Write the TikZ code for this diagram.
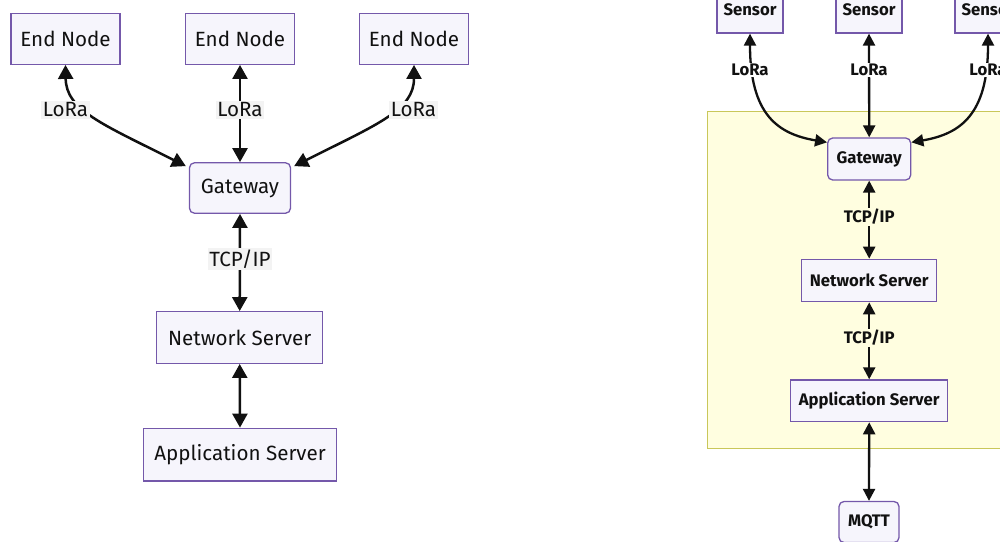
\documentclass[tikz,border=0pt]{standalone}
\usepackage{fontspec}
\setmainfont{Fira Sans}
\usetikzlibrary{arrows.meta}

\definecolor{nodefill}{HTML}{F6F5FC}
\definecolor{nodeline}{HTML}{7458AA}
\definecolor{clusterfill}{HTML}{FFFEE0}
\definecolor{clusterline}{HTML}{C9C75A}
\definecolor{labelbg}{HTML}{F3F3F3}
\definecolor{ink}{HTML}{111111}

\tikzset{
  box/.style={draw=nodeline, fill=nodefill, line width=1.3pt, inner sep=0pt, text=ink},
  roundbox/.style={box, rounded corners=5pt},
  bigtext/.style={font=\fontsize{20.6}{24}\selectfont},
  smalltext/.style={font=\fontsize{16.7}{19}\selectfont\bfseries},
  biglink/.style={line width=2.5pt, draw=ink,
    {Triangle[length=14pt,width=15pt]}-{Triangle[length=14pt,width=15pt]}},
  smalllink/.style={line width=2.3pt, draw=ink,
    {Triangle[length=12pt,width=12pt]}-{Triangle[length=12pt,width=12pt]}},
  lbl/.style={fill=labelbg, inner sep=1.5pt, text=ink},
}

\begin{document}
\begin{tikzpicture}[x=1pt, y=-1pt]
\useasboundingbox (0,0) rectangle (1000,541);
\clip (0,0) rectangle (1000,541);
\fill[white] (0,0) rectangle (1000,541);

% ---------- left: basic LoRaWAN chain ----------
\begin{scope}[bigtext]
  \node[box, minimum width=109pt, minimum height=51pt] (en1) at (65.5,38.8) {End Node};
  \node[box, minimum width=109pt, minimum height=51pt] (en2) at (240,38.8) {End Node};
  \node[box, minimum width=109pt, minimum height=51pt] (en3) at (414,38.8) {End Node};
  \node[roundbox, minimum width=101pt, minimum height=50.5pt] (gw) at (240,188) {Gateway};
  \node[box, minimum width=166pt, minimum height=51.6pt] (ns) at (239.7,337.5) {Network Server};
  \node[box, minimum width=193.4pt, minimum height=52.7pt] (as) at (240,454.6) {Application Server};

  \draw[biglink] (en1.south) .. controls (66,110) and (102,124) .. ([shift={(-3pt,-4pt)}]gw.north west);
  \draw[biglink] (en2.south) -- (gw.north);
  \draw[biglink] (en3.south) .. controls (414,110) and (378,124) .. ([shift={(3pt,-4pt)}]gw.north east);
  \draw[biglink] (gw.south) -- (ns.north);
  \draw[biglink] (ns.south) -- (as.north);

  \node[lbl] (l1) at (65.5,110) {LoRa};
  \node[lbl] (l2) at (240,110) {LoRa};
  \node[lbl] (l3) at (413.5,110) {LoRa};
  \node[lbl] (l4) at (240,259) {TCP/IP};
\end{scope}

% ---------- right: sensors with the network core grouped ----------
\fill[clusterfill, draw=clusterline, line width=1.3pt] (707.5,111.7) rectangle (1040,448.3);

\begin{scope}[smalltext]
  \node[box, minimum width=66pt, minimum height=46pt] (s1) at (750,10) {Sensor};
  \node[box, minimum width=66pt, minimum height=46pt] (s2) at (869,10) {Sensor};
  \node[box, minimum width=66pt, minimum height=46pt] (s3) at (988,10) {Sensor};
  \node[roundbox, minimum width=83pt, minimum height=42pt] (gw2) at (869.2,159) {Gateway};
  \node[box, minimum width=135pt, minimum height=42.4pt] (ns2) at (869.2,280.5) {Network Server};
  \node[box, minimum width=157pt, minimum height=41.7pt] (as2) at (869.2,400.8) {Application Server};
  \node[roundbox, minimum width=60pt, minimum height=41pt] (mq) at (869,522) {MQTT};

  \draw[smalllink] (s1.south) .. controls (750,115) and (778,134) .. ([yshift=-5pt]gw2.north west);
  \draw[smalllink] (s2.south) -- (gw2.north);
  \draw[smalllink] (s3.south) .. controls (988,115) and (960,134) .. ([yshift=-5pt]gw2.north east);
  \draw[smalllink] (gw2.south) -- (ns2.north);
  \draw[smalllink] (ns2.south) -- (as2.north);
  \draw[smalllink] (as2.south) -- (mq.north);

  \node[lbl, fill=white] (r1) at (750,70) {LoRa};
  \node[lbl, fill=white] (r2) at (869,70) {LoRa};
  \node[lbl, fill=white] (r3) at (988,70) {LoRa};
  \node[lbl, fill=clusterfill] (r4) at (869.2,217) {TCP/IP};
  \node[lbl, fill=clusterfill] (r5) at (869.2,338) {TCP/IP};
\end{scope}
\end{tikzpicture}
\end{document}
